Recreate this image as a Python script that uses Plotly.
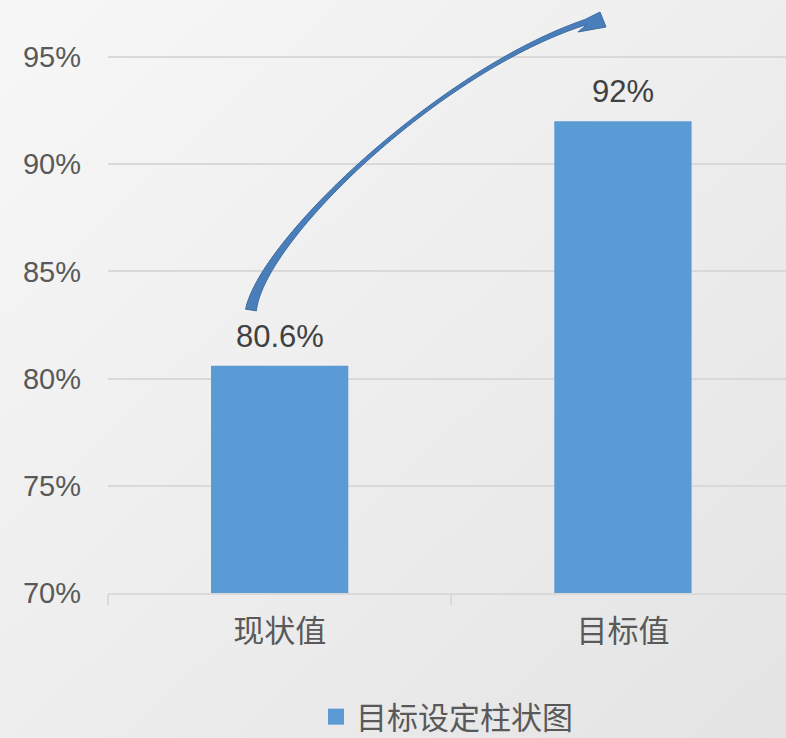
import base64
import numpy as np
import plotly.graph_objects as go

# ---------------- data ----------------
categories = ["现状值", "目标值"]
values = [80.6, 92.0]
value_labels = ["80.6%", "92%"]
series_name = "目标设定柱状图"
y_ticks = [70, 75, 80, 85, 90, 95]
y_tick_labels = ["70%", "75%", "80%", "85%", "90%", "95%"]

# ---------------- layout constants ----------------
W, H = 786, 738
ML, MR, MT, MB = 108, 0, 0, 145
PW, PH = W - ML - MR, H - MT - MB
BAR_COLOR = "#5B9BD5"
GRID = "#D9D9D9"
FONT = "Liberation Sans, Arial, Noto Sans CJK SC, sans-serif"
CJK = "Noto Sans CJK SC, Liberation Sans, sans-serif"


def px2paper(px, py):
    return (px - ML) / PW, (MT + PH - py) / PH


# ---------------- decorative curved arrow (pixel geometry) ----------------
P = np.array([[251, 310], [262, 240], [440, 70], [586, 22]], dtype=float)
t = np.linspace(0, 1, 80)
B = (((1 - t) ** 3)[:, None] * P[0] + (3 * (1 - t) ** 2 * t)[:, None] * P[1]
     + (3 * (1 - t) * t ** 2)[:, None] * P[2] + (t ** 3)[:, None] * P[3])
dB = ((3 * (1 - t) ** 2)[:, None] * (P[1] - P[0]) + (6 * (1 - t) * t)[:, None] * (P[2] - P[1])
      + (3 * t ** 2)[:, None] * (P[3] - P[2]))
nrm = np.stack([-dB[:, 1], dB[:, 0]], axis=1)
nrm /= np.linalg.norm(nrm, axis=1)[:, None]
w = 1.3 + 4.2 * (1 - t) ** 3 + 1.4 * t ** 4
side_a = B + nrm * w[:, None]
side_b = B - nrm * w[:, None]
if side_a[-1, 1] < side_b[-1, 1]:
    upper, lower = side_a, side_b
else:
    upper, lower = side_b, side_a
head = [(600, 12), (606, 27), (578, 32)]
pts = list(map(tuple, upper)) + head + list(map(tuple, lower[::-1]))
path = ""
for i, (px, py) in enumerate(pts):
    xp, yp = px2paper(px, py)
    path += ("M" if i == 0 else "L") + f"{xp:.5f},{yp:.5f} "
path += "Z"

# ---------------- background gradient image ----------------
svg = (f'<svg xmlns="http://www.w3.org/2000/svg" width="{W}" height="{H}">'
       '<defs><linearGradient id="g" x1="0" y1="0" x2="1" y2="1">'
       '<stop offset="0" stop-color="#F7F7F7"/>'
       '<stop offset="1" stop-color="#E4E4E4"/>'
       '</linearGradient></defs>'
       f'<rect width="{W}" height="{H}" fill="url(#g)"/></svg>')
bg_src = "data:image/svg+xml;base64," + base64.b64encode(svg.encode()).decode()

fig = go.Figure()
fig.add_trace(go.Bar(
    x=categories, y=values, name=series_name, width=0.40,
    marker=dict(color=BAR_COLOR, line=dict(width=0)),
    showlegend=False, hoverinfo="skip",
))
fig.add_trace(go.Scatter(
    x=[None], y=[None], mode="markers", name=series_name,
    marker=dict(symbol="square", size=19, color=BAR_COLOR),
    showlegend=True,
))

annotations = []
for c, v, lab in zip(categories, values, value_labels):
    annotations.append(dict(
        x=c, y=v, xref="x", yref="y", text=lab, showarrow=False,
        yanchor="bottom", yshift=10,
        font=dict(family=FONT, size=31, color="#404040"),
    ))

x0p, x1p = px2paper(0, 0)[0], px2paper(W, 0)[0]
y0p, y1p = px2paper(0, H)[1], px2paper(0, 0)[1]

fig.update_layout(
    width=W, height=H,
    margin=dict(l=ML, r=MR, t=MT, b=MB, pad=0),
    paper_bgcolor="#EEEEEE",
    plot_bgcolor="rgba(0,0,0,0)",
    images=[dict(source=bg_src, xref="paper", yref="paper",
                 x=x0p, y=y1p, sizex=x1p - x0p, sizey=y1p - y0p,
                 xanchor="left", yanchor="top", sizing="stretch", layer="below")],
    shapes=[dict(type="path", xref="paper", yref="paper", path=path,
                 fillcolor="#4A7EBB", line=dict(color="#3E6C9F", width=1))],
    annotations=annotations,
    showlegend=True,
    legend=dict(orientation="h", x=0.5, xanchor="center",
                yref="container", y=(H - 717) / H, yanchor="middle",
                font=dict(family=CJK, size=31, color="#595959"),
                bgcolor="rgba(0,0,0,0)", itemsizing="trace"),
    xaxis=dict(
        type="category", range=[-0.5, 1.475],
        showgrid=False, showline=True, linecolor=GRID, linewidth=1.5,
        ticks="outside", tickson="boundaries", ticklen=10, tickcolor=GRID, tickwidth=1.5,
        tickfont=dict(family=CJK, size=31, color="#595959"),
        ticklabelstandoff=10, zeroline=False, fixedrange=True,
    ),
    yaxis=dict(
        range=[70, 70 + PH / 21.44],
        tickvals=y_ticks, ticktext=y_tick_labels,
        showgrid=True, gridcolor=GRID, gridwidth=1.5,
        showline=False, zeroline=False, ticks="",
        tickfont=dict(family=FONT, size=29, color="#595959"),
        ticklabelstandoff=26, fixedrange=True,
    ),
)

fig.write_html(
    "out.html",
    config={"displayModeBar": False},
    post_script="document.body.style.margin='0';document.body.style.overflow='hidden';",
)
